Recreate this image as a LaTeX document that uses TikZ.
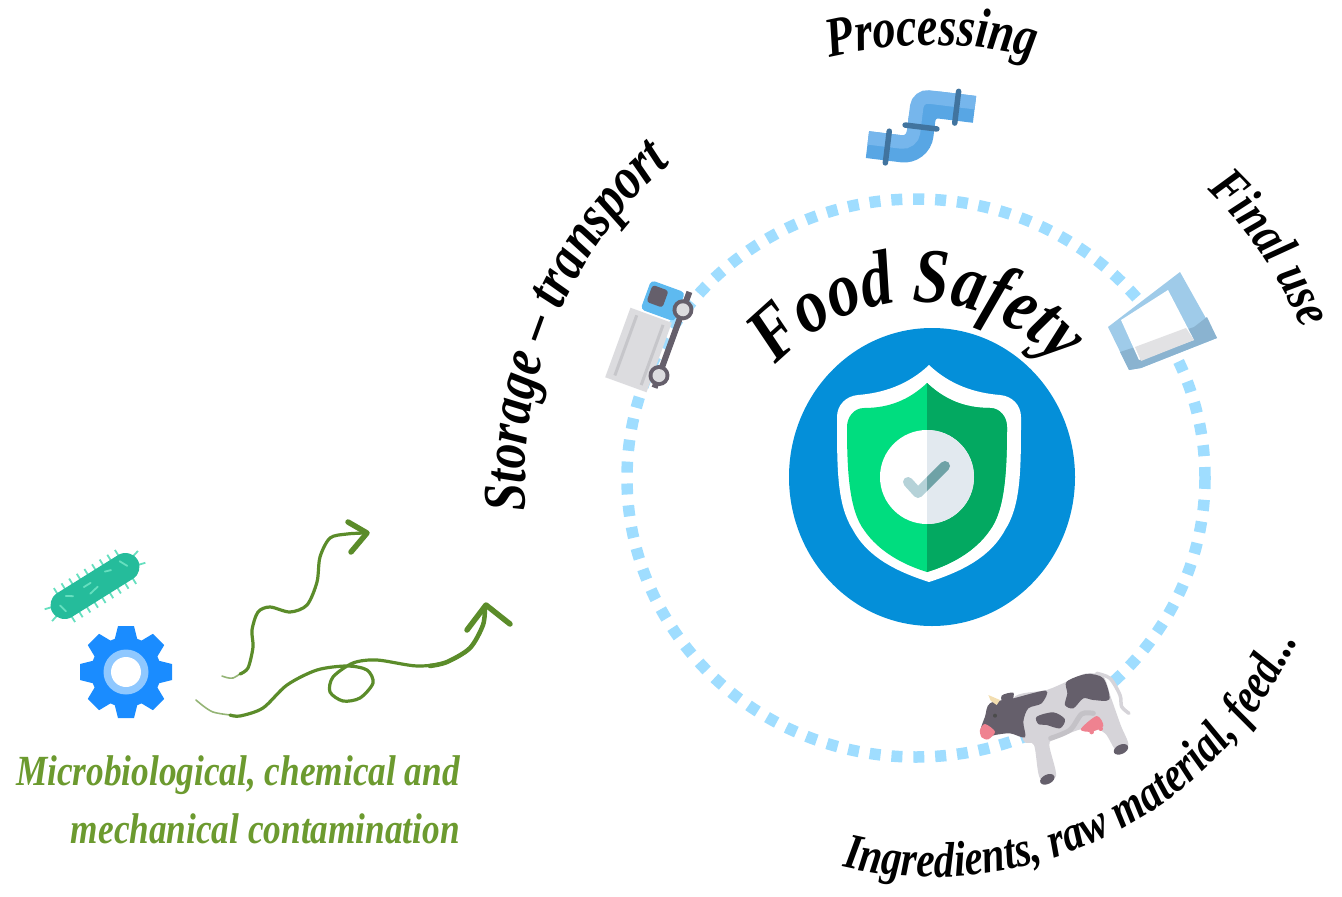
\documentclass[tikz,border=0pt]{standalone}
\usepackage{fontspec}
\setmainfont{Liberation Serif}[FakeStretch=0.82]
\usetikzlibrary{decorations.text}
\definecolor{ringblue}{HTML}{9FDDFF}
\definecolor{diskblue}{HTML}{048FD9}
\definecolor{shieldlight}{HTML}{00DD7F}
\definecolor{shielddark}{HTML}{03A961}
\definecolor{vinegreen}{HTML}{5B8C2A}
\definecolor{labelgreen}{HTML}{6C9A2F}
\definecolor{gearblue}{HTML}{1A8CFF}
\definecolor{pipedark}{HTML}{58A6E4}
\definecolor{pipelight}{HTML}{76B6EC}
\definecolor{pipeband}{HTML}{41749F}
\definecolor{cowgrey}{HTML}{D6D4D9}
\definecolor{cowdark}{HTML}{655F6B}
\definecolor{cowpink}{HTML}{EF8290}
\definecolor{truckgrey}{HTML}{DCDCDF}
\definecolor{cuplight}{HTML}{9FCBE9}
\definecolor{cupdark}{HTML}{8AB3D0}
\definecolor{germgreen}{HTML}{25BC9B}
\definecolor{germhair}{HTML}{66DFBF}
\newcommand{\brush}[1]{\fontsize{#1}{#1}\selectfont\bfseries\itshape}
\newcommand{\shieldgreen}{(927,383) .. controls (945,400) and (965,408) .. (990,408)
    .. controls (1000,408) and (1007,417) .. (1007,427)
    .. controls (1007,470) and (1005,510) .. (990,530)
    .. controls (975,552) and (950,565) .. (927,572)
    .. controls (904,565) and (879,552) .. (864,530)
    .. controls (849,510) and (847,470) .. (847,427)
    .. controls (847,417) and (854,408) .. (864,408)
    .. controls (889,408) and (909,400) .. (927,383) -- cycle}
\begin{document}
\begin{tikzpicture}[x=1pt,y=-1pt]
    \tikzstyle{ringline}=[ringblue,line width=11.5pt,dash pattern=on 11pt off 10.9pt]
    \tikzstyle{vine}=[vinegreen,line width=3.2pt,line cap=round,line join=round]
    \tikzstyle{vinetail}=[vinegreen!65,line width=1.6pt,line cap=round]
    \tikzstyle{curvelabel}=[decorate,text=black]
    \useasboundingbox (0,0) rectangle (1342,897);

    \draw[ringline] (916,478) ellipse [x radius=289pt,y radius=279pt];
    \fill[diskblue] (932,477) ellipse [x radius=143pt,y radius=149pt];

    \fill[white] (929,365) .. controls (950,385) and (975,393) .. (1000,395)
        .. controls (1012,396) and (1021,405) .. (1021,417)
        .. controls (1021,470) and (1021,505) .. (1005,530)
        .. controls (990,558) and (960,572) .. (929,582)
        .. controls (898,572) and (868,558) .. (853,530)
        .. controls (837,505) and (837,470) .. (837,417)
        .. controls (837,405) and (846,396) .. (858,395)
        .. controls (883,393) and (908,385) .. (929,365) -- cycle;
    \fill[shieldlight] \shieldgreen;
    \begin{scope}
        \clip (927,300) rectangle (1100,650);
        \fill[shielddark] \shieldgreen;
    \end{scope}
    \fill[white] (927,477) circle (47pt);
    \begin{scope}
        \clip (880,420) rectangle (927,540);
        \draw[color={rgb,255:red,181;green,210;blue,216},line width=10pt,line cap=round,line join=round] (908,482) -- (918,493) -- (945,466);
    \end{scope}
    \begin{scope}
        \clip (927,420) rectangle (980,540);
        \fill[color={rgb,255:red,226;green,233;blue,239}] (927,477) circle (47pt);
        \draw[color={rgb,255:red,111;green,162;blue,166},line width=10pt,line cap=round,line join=round] (908,482) -- (918,493) -- (945,466);
    \end{scope}

    \begin{scope}[shift={(921,127)},rotate=-7]
        \draw[pipedark,line width=27pt,rounded corners=16pt] (-51,24) -- (0,24) -- (0,-24) -- (51,-24);
        \draw[pipelight,line width=13.5pt,rounded corners=11pt] (-51,17.25) -- (-6.75,17.25) -- (-6.75,-30.75) -- (51,-30.75);
        \draw[pipeband,line width=5.5pt,line cap=round] (-31,8) -- (-31,40);
        \draw[pipeband,line width=5.5pt,line cap=round] (-16,0) -- (16,0);
        \draw[pipeband,line width=5.5pt,line cap=round] (33,-40) -- (33,-8);
    \end{scope}

    \begin{scope}[shift={(638.5,350)},rotate=-20]
        \fill[truckgrey] (-22,-37) rectangle (22,37);
        \fill[color={rgb,255:red,198;green,198;blue,202}] (-15,-32) rectangle (-12,32);
        \fill[color={rgb,255:red,198;green,198;blue,202}] (13,-32) rectangle (16,32);
        \fill[color={rgb,255:red,94;green,186;blue,240},rounded corners=4pt] (-12,-70) rectangle (24,-39);
        \fill[cowdark,rounded corners=3pt] (-9,-66) rectangle (8,-48);
        \draw[cowdark,line width=6pt] (28,-72) -- (28,30);
        \fill[cowdark] (28,-53) circle (10.5pt);
        \fill[truckgrey] (28,-53) circle (6.5pt);
        \fill[cowdark] (28,17) circle (10.5pt);
        \fill[truckgrey] (28,17) circle (6.5pt);
    \end{scope}

    \fill[cuplight] (1180,272) -- (1217,338) -- (1141,368) -- (1129,370) -- (1108,327) -- cycle;
    \fill[cupdark] (1207,317) -- (1217,338) -- (1141,368) -- (1129,370) -- (1120,352) -- (1135,347) -- (1194,327) -- cycle;
    \fill[white] (1168,290) -- (1194,340) -- (1139,360) -- (1121,320) -- cycle;
    \fill[color={rgb,255:red,226;green,226;blue,228}] (1186,328) -- (1194,340) -- (1141,361) -- (1135,347) -- cycle;

    \begin{scope}[shift={(960,650)},scale=0.3333]
        \draw[color={rgb,255:red,214;green,212;blue,217},line width=3.5pt,line cap=round] plot[smooth] coordinates {(410,70) (450,85) (480,135) (485,170) (507,190)};
        \fill[cowgrey] plot[smooth cycle] coordinates {(160,145) (260,120) (320,95) (380,70) (430,80) (452,140) (482,225) (505,285) (468,300) (435,250) (385,232) (290,265) (268,285) (288,378) (240,385) (222,285) (190,270)};
        \fill[cowdark] plot[smooth cycle] coordinates {(160,145) (258,122) (245,160) (205,175) (190,215) (195,262) (150,250) (105,255) (75,262) (62,240) (75,200) (90,160)};
        \fill[cowpink] plot[smooth cycle] coordinates {(60,240) (75,222) (105,245) (85,268) (65,262)};
        \fill[color={rgb,255:red,243;green,222;blue,176}] (85,135) -- (120,150) -- (110,165) -- (92,152) -- cycle;
        \fill[cowdark] plot[smooth cycle] coordinates {(125,137) (160,128) (155,155) (130,165)};
        \fill[cowdark] plot[smooth cycle] coordinates {(320,95) (380,72) (430,85) (448,148) (400,150) (370,145) (340,175) (315,165) (322,130)};
        \fill[cowdark] plot[smooth cycle] coordinates {(230,200) (280,187) (315,208) (300,235) (260,225) (235,222)};
        \fill[cowpink] plot[smooth cycle] coordinates {(362,238) (410,198) (430,228) (395,245)};
        \fill[cowpink] (395,246) circle (7pt) (422,236) circle (7pt);
        \draw[color={rgb,255:red,196;green,194;blue,199},line width=5pt,line cap=round] plot[smooth] coordinates {(272,265) (330,240) (365,192) (400,190)};
        \fill[cowdark,rotate around={25:(262,388)}] (262,388) ellipse [x radius=23pt,y radius=14pt];
        \fill[cowdark,rotate around={25:(483,298)}] (483,298) ellipse [x radius=23pt,y radius=14pt];
        \fill[black!70] (105,197) circle (6pt);
    \end{scope}

    \begin{scope}[shift={(95,586)},rotate=32]
        \foreach \xpos in {-36,-27,...,36} {
            \draw[germhair,line width=1.8pt] (\xpos,-13) -- (\xpos,-20);
            \draw[germhair,line width=1.8pt] (\xpos,13) -- (\xpos,20);
        }
        \draw[germhair,line width=1.8pt] (-48,-5) -- (-55,-7) (-48,5) -- (-55,7) (48,-5) -- (55,-7) (48,5) -- (55,7);
        \draw[germgreen,line width=28pt,line cap=round] (-36,0) -- (36,0);
        \draw[germhair,line width=1.8pt,line cap=round] (-40,-2) -- (-38,6) (-30,-7) -- (-24,-3) (-10,-5) -- (-2,-5) (-8,4) -- (2,2) (16,-7) -- (22,-5) (34,-8) -- (38,0);
    \end{scope}

    \begin{scope}[shift={(126,672)}]
        \fill[gearblue] (0,0) circle (35pt);
        \foreach \angle in {0,45,...,315} {
            \fill[gearblue,rotate=\angle] (-8,-46) -- (8,-46) -- (12,-30) -- (-12,-30) -- cycle;
        }
        \fill[color={rgb,255:red,143;green,200;blue,255}] (0,0) circle (22.5pt);
        \fill[white] (0,0) circle (15pt);
    \end{scope}

    \draw[vinetail] plot[smooth] coordinates {(222,676) (233,678) (248,668)};
    \draw[vine] plot[smooth] coordinates {(240,674) (248,668) (253,647) (252,630) (258,612) (270,607) (290,612) (307,605) (317,582) (320,557) (330,538) (347,534) (365,533)};
    \draw[vine,line width=5.5pt] (348,522) -- (367,533) -- (351,552);
    \draw[vinetail] plot[smooth] coordinates {(196,700) (213,712) (240,716)};
    \draw[vine] plot[smooth] coordinates {(230,715) (240,716) (263,708) (287,685) (317,670) (347,666) (367,670) (373,683) (360,698) (343,701) (330,692) (333,677) (353,663) (377,660) (417,666) (447,662) (470,648) (483,625) (485,607)};
    \draw[vine,line width=4.5pt] plot[smooth] coordinates {(430,666) (447,662) (470,648) (483,625) (485,607)};
    \draw[vine,line width=5.5pt] (467,630) -- (486,605) -- (510,624);

    \node[text=labelgreen,align=right,anchor=north east,inner sep=0pt,font=\brush{43}] (contamlabel) at (460,755) {Microbiological, chemical and\\[15pt]mechanical contamination};

    \path[curvelabel,decoration={text along path,text align=center,text={|\brush{78}|Food Safety}}] plot[domain=-165:-15,samples=90,variable=\t] ({917+188*cos(\t)},{490+188*sin(\t)});
    \path[curvelabel,decoration={text along path,text align=center,text={|\brush{56}|Processing}}] plot[domain=-115:-65,samples=60,variable=\t] ({932+432*cos(\t)},{477+432*sin(\t)});
    \path[curvelabel,decoration={text along path,text align=center,text={|\brush{53}|Final use}}] plot[domain=-65:-3,samples=60,variable=\t] ({932+398*cos(\t)},{477+398*sin(\t)});
    \path[curvelabel,decoration={text along path,text align=center,text={|\brush{60}|Storage – transport}}] plot[domain=161:246,samples=60,variable=\t] ({920+395*cos(\t)},{480+408*sin(\t)});
    \path[curvelabel,decoration={text along path,text align=center,text={|\brush{50}|Ingredients, raw material, feed...}}] plot[domain=116:11,samples=80,variable=\t] ({932+400*cos(\t)},{477+400*sin(\t)});
\end{tikzpicture}
\end{document}
